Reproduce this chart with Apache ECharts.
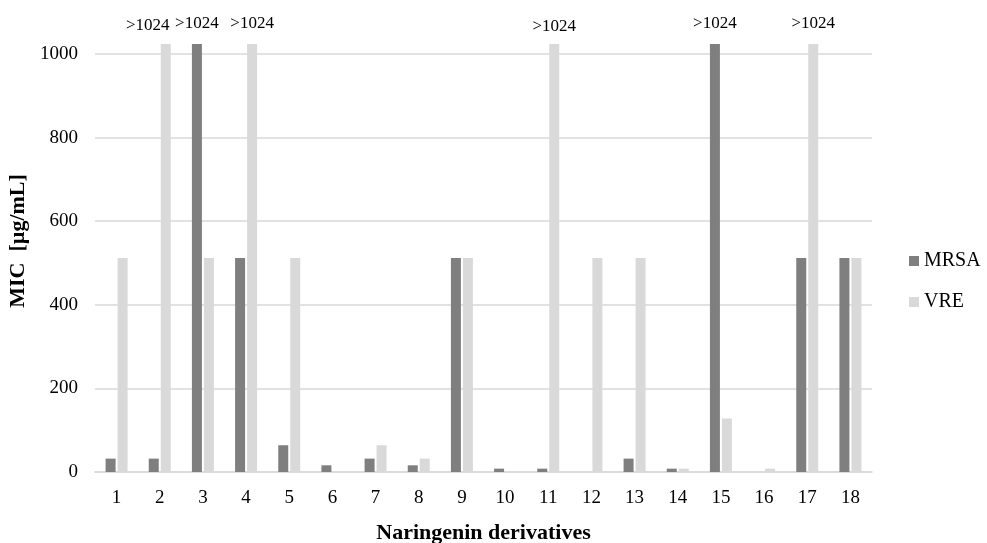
<!DOCTYPE html>
<html>
<head>
<meta charset="utf-8">
<script src="https://cdn.jsdelivr.net/npm/echarts@6/dist/echarts.min.js"></script>
<style>
  html, body { margin: 0; padding: 0; background: #fff; overflow: hidden; }
  #chart { width: 987px; height: 543px; }
</style>
</head>
<body>
<div id="chart"></div>
<script>
// Naringenin derivatives 1–18, MIC values in µg/mL
const categories = ['1','2','3','4','5','6','7','8','9','10','11','12','13','14','15','16','17','18'];
const mrsa = [32, 32, 1024, 512, 64, 16, 32, 16, 512, 8, 8, 0, 32, 8, 1024, 0, 512, 512];
const vre  = [512, 1024, 512, 1024, 512, 0, 64, 32, 512, 0, 1024, 512, 512, 8, 128, 8, 1024, 512];
const yTicks = [0, 200, 400, 600, 800, 1000];
const capValue = 1024; // values at the top of the tested range are shown as ">1024"

const FONT = 'Liberation Serif';

function capLabel(value, cat) {
  const lbl = {
    show: value >= capValue,
    position: 'top',
    distance: 12,
    formatter: '>' + capValue,
    color: '#000',
    fontFamily: FONT,
    fontSize: 17
  };
  // label for derivative 2 sits a little left of its bar
  if (cat === '2') lbl.offset = [-18, 2];
  if (cat === '11') lbl.offset = [0, 3];
  return lbl;
}

function seriesData(values) {
  return values.map((v, i) => ({ value: v, label: capLabel(v, categories[i]) }));
}

const chart = echarts.init(document.getElementById('chart'), null, { renderer: 'canvas', width: 987, height: 543 });
chart.setOption({
  animation: false,
  textStyle: { fontFamily: FONT },
  grid: { left: 95, width: 777, top: 54, height: 418, containLabel: false, outerBoundsMode: 'none' },
  legend: {
    orient: 'vertical',
    left: 904,
    top: 246,
    itemWidth: 10,
    itemHeight: 10,
    itemGap: 21,
    icon: 'rect',
    textStyle: { fontFamily: FONT, fontSize: 20, color: '#000' },
    data: ['MRSA', 'VRE']
  },
  xAxis: {
    type: 'category',
    data: categories,
    name: 'Naringenin derivatives',
    nameLocation: 'middle',
    nameGap: 50,
    nameTextStyle: { fontFamily: FONT, fontSize: 22, fontWeight: 'bold', color: '#000' },
    axisLine: { lineStyle: { color: '#d9d9d9', width: 1.5 } },
    axisTick: { show: false },
    axisLabel: { color: '#000', fontFamily: FONT, fontSize: 19, margin: 17 }
  },
  yAxis: {
    type: 'value',
    min: yTicks[0],
    max: yTicks[yTicks.length - 1],
    interval: yTicks[1] - yTicks[0],
    name: 'MIC  [µg/mL]',
    nameLocation: 'middle',
    nameGap: 58,
    nameRotate: 90,
    nameTextStyle: { fontFamily: FONT, fontSize: 22, fontWeight: 'bold', color: '#000', padding: [0, 0, 0, 44] },
    axisLine: { show: false },
    axisTick: { show: false },
    axisLabel: { color: '#000', fontFamily: FONT, fontSize: 19, margin: 17, formatter: v => String(v) },
    splitLine: { lineStyle: { color: '#d9d9d9', width: 1.5 } }
  },
  series: [
    {
      name: 'MRSA',
      type: 'bar',
      clip: false,
      barWidth: 10,
      barGap: '20%',
      itemStyle: { color: '#7f7f7f' },
      data: seriesData(mrsa)
    },
    {
      name: 'VRE',
      type: 'bar',
      clip: false,
      barWidth: 10,
      barGap: '20%',
      itemStyle: { color: '#d9d9d9' },
      data: seriesData(vre)
    }
  ]
});
</script>
</body>
</html>
